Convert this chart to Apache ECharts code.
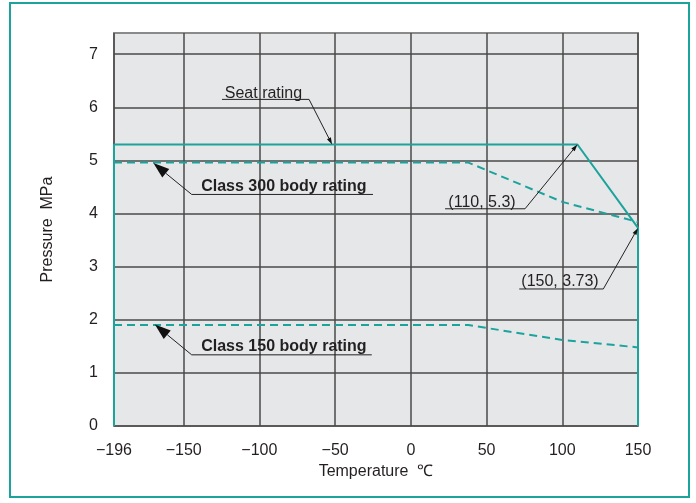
<!DOCTYPE html>
<html>
<head>
<meta charset="utf-8">
<script src="https://cdn.jsdelivr.net/npm/echarts@6/dist/echarts.min.js"></script>
<style>html,body{margin:0;padding:0;background:#fff;}#c{width:696px;height:503px;}</style>
</head>
<body>
<div id="c"></div>
<script>
// ---- data ----
const xTicks = [-196, -150, -100, -50, 0, 50, 100, 150];
const yTicks = [0, 1, 2, 3, 4, 5, 6, 7];
const seatRating = [[-196, 0], [-196, 5.3], [110, 5.3], [150, 3.73], [150, 0]];
const class300 = [[-196, 4.96], [38, 4.96], [100, 4.22], [150, 3.84]];
const class150 = [[-196, 1.90], [38, 1.90], [100, 1.62], [150, 1.48]];
const annotationTexts = ['Seat rating', 'Class 300 body rating', 'Class 150 body rating', '(110, 5.3)', '(150, 3.73)'];
// tip (pointed point), elbow, end of underline, text anchor — in data units
const annotationTips = [[-52, 5.3], [-170, 4.95], [-169, 1.91], [110, 5.3], [150, 3.73]];
const annotationElbows = [[-67.2, 6.15], [-144.7, 4.36], [-144.7, 1.34], [75.4, 4.09], [127.1, 2.58]];
const annotationEnds = [[-124.7, 6.15], [-25, 4.36], [-25.8, 1.34], [22.6, 4.09], [71.6, 2.58]];
const annotationTextPos = [[-97.3, 6.26], [-83.8, 4.51], [-83.8, 1.49], [47, 4.20], [98.5, 2.71]];
const annotationBold = [false, true, true, false, false];
const annotationBigArrow = [false, true, true, false, false];

const teal = '#1ba39c';
const ink = '#231f20';
const chart = echarts.init(document.getElementById('c'));

function renderAnno(params, api) {
  const i = api.value(2);
  const tip = api.coord(annotationTips[i]);
  const elbow = api.coord(annotationElbows[i]);
  const end = api.coord(annotationEnds[i]);
  const tp = api.coord(annotationTextPos[i]);
  const dx = tip[0] - elbow[0], dy = tip[1] - elbow[1];
  const len = Math.sqrt(dx * dx + dy * dy);
  const ux = dx / len, uy = dy / len;
  const big = annotationBigArrow[i];
  const L = big ? 16 : 7, W = big ? 5.5 : 2.2;
  const bx = tip[0] - ux * L, by = tip[1] - uy * L;
  const arrow = [[tip[0], tip[1]], [bx - uy * W, by + ux * W], [bx + uy * W, by - ux * W]];
  return {
    type: 'group',
    children: [
      { type: 'polyline', shape: { points: [[bx, by], elbow, end] }, style: { stroke: '#222', lineWidth: 1, fill: null } },
      { type: 'polygon', shape: { points: arrow }, style: { fill: '#111' } },
      { type: 'text', style: { text: annotationTexts[i], x: tp[0], y: tp[1], align: 'center', verticalAlign: 'middle',
        font: (annotationBold[i] ? 'bold ' : '') + '16px "Liberation Sans", Arial, sans-serif', fill: ink } }
    ]
  };
}

const dashed = [8, 5];
chart.setOption({
  animation: false,
  backgroundColor: '#fff',
  graphic: [{ type: 'rect', shape: { x: 10, y: 3, width: 679, height: 494 }, style: { fill: null, stroke: teal, lineWidth: 2 } }],
  grid: { left: 114, right: 58, top: 33, bottom: 77, show: true, backgroundColor: '#e6e7e9', borderColor: '#8a8a8a', borderWidth: 2 },
  xAxis: {
    type: 'value', min: -196, max: 150,
    name: 'Temperature  ℃', nameLocation: 'middle', nameGap: 38,
    nameTextStyle: { fontSize: 16, color: ink, fontFamily: '"Liberation Sans", Arial, sans-serif' },
    axisLine: { show: false },
    axisTick: { show: false, customValues: xTicks },
    axisLabel: { customValues: xTicks, fontSize: 16, color: ink, margin: 17, fontFamily: '"Liberation Sans", Arial, sans-serif',
      formatter: v => String(v).replace('-', '\u2212') },
    splitLine: { show: true, lineStyle: { color: '#4a4a4a', width: 1.5 } }
  },
  yAxis: {
    type: 'value', min: 0, max: 7.4,
    name: 'Pressure  MPa', nameLocation: 'middle', nameGap: 58, nameRotate: 90,
    nameTextStyle: { fontSize: 16, color: ink, fontFamily: '"Liberation Sans", Arial, sans-serif' },
    axisLine: { show: false },
    axisTick: { show: false, customValues: yTicks },
    axisLabel: { customValues: yTicks, fontSize: 16, color: ink, margin: 16, padding: [4, 0, 0, 0], fontFamily: '"Liberation Sans", Arial, sans-serif' },
    splitLine: { show: true, lineStyle: { color: '#4a4a4a', width: 1.5 } }
  },
  series: [
    { type: 'line', name: 'Seat rating', data: seatRating, symbol: 'none', lineStyle: { color: teal, width: 2 }, z: 3 },
    { type: 'line', name: 'Class 300', data: class300, symbol: 'none', lineStyle: { color: teal, width: 2, type: dashed }, z: 3 },
    { type: 'line', name: 'Class 150', data: class150, symbol: 'none', lineStyle: { color: teal, width: 2, type: dashed }, z: 3 },
    { type: 'custom', renderItem: renderAnno, data: annotationTips.map((t, i) => [t[0], t[1], i]), z: 5, silent: true }
  ]
});
</script>
</body>
</html>
